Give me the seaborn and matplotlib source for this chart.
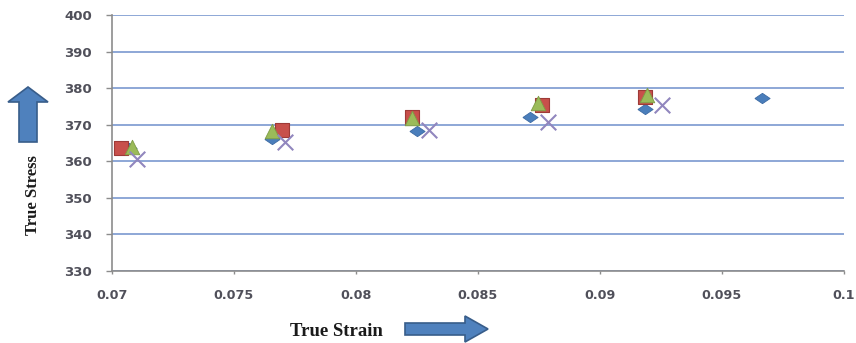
import numpy as np
import seaborn as sns
import matplotlib.pyplot as plt
from matplotlib.patches import Polygon

# series (true strain, true stress)
strain_blue = [0.0707, 0.07656, 0.0825, 0.08714, 0.09186, 0.09665]
stress_blue = [363.6, 366.0, 368.3, 372.1, 374.4, 377.3]

strain_red = [0.0704, 0.07697, 0.0823, 0.08762, 0.09186]
stress_red = [363.5, 368.5, 372.1, 375.3, 377.6]

strain_green = [0.07082, 0.07656, 0.0823, 0.08748, 0.09193]
stress_green = [363.9, 368.3, 371.8, 375.8, 378.1]

strain_cross = [0.07102, 0.0771, 0.08298, 0.08789, 0.09254]
stress_cross = [360.7, 365.3, 368.5, 370.8, 375.3]

x_ticks = [0.07, 0.075, 0.08, 0.085, 0.09, 0.095, 0.1]
x_tick_labels = ['0.07', '0.075', '0.08', '0.085', '0.09', '0.095', '0.1']
y_ticks = [330, 340, 350, 360, 370, 380, 390, 400]

W, H = 856, 343

sns.set_style("white")
plt.rcParams['font.family'] = ['DejaVu Sans']

fig = plt.figure(figsize=(W / 100, H / 100), dpi=100)
ax = fig.add_axes([111.7 / W, 1 - 270.7 / H, (844 - 111.7) / W, (270.7 - 15) / H])

# wide Excel-style diamond
diamond = [(-1, 0), (0, 0.68), (1, 0), (0, -0.68), (-1, 0)]

sns.scatterplot(x=strain_blue, y=stress_blue, marker=diamond, s=120,
                color='#4A7EBB', edgecolor='#3C6AA3', linewidth=0.6, ax=ax, zorder=3, legend=False)
sns.scatterplot(x=strain_red, y=stress_red, marker='s', s=100,
                color='#C8504B', edgecolor='#9E3A37', linewidth=0.8, ax=ax, zorder=3, legend=False)
sns.scatterplot(x=strain_green, y=stress_green, marker='^', s=110,
                color='#9BBB59', edgecolor='#7E9C45', linewidth=0.6, ax=ax, zorder=3, legend=False)
sns.scatterplot(x=strain_cross, y=stress_cross, marker='x', s=125,
                color='#9186BE', linewidth=1.5, ax=ax, zorder=3, legend=False)

ax.set_xlim(0.07, 0.1)
ax.set_ylim(330, 400)
ax.set_xticks(x_ticks)
ax.set_xticklabels(x_tick_labels)
ax.set_yticks(y_ticks)
ax.set_xlabel('')
ax.set_ylabel('')

ax.yaxis.grid(True, color='#7A98D0', linewidth=1.2)
ax.xaxis.grid(False)
ax.set_axisbelow(True)

for side in ['top', 'right']:
    ax.spines[side].set_visible(False)
for side in ['left', 'bottom']:
    ax.spines[side].set_color('#8C8C8C')
    ax.spines[side].set_linewidth(1.2)
    ax.spines[side].set_zorder(2.5)

ax.tick_params(axis='y', direction='out', length=4.3, width=1, color='#8C8C8C',
               pad=10, labelsize=9.5, labelcolor='#50505A', left=True)
ax.tick_params(axis='x', direction='out', length=2.5, width=1, color='#8C8C8C',
               pad=10.5, labelsize=9.2, labelcolor='#50505A', bottom=True)
for lab in ax.get_xticklabels() + ax.get_yticklabels():
    lab.set_fontweight('bold')

# axis titles
fig.text(336 / W, 1 - 332 / H, 'True Strain', ha='center', va='center',
         family='Liberation Serif', fontweight='bold', fontsize=13.5, color='#1a1a1a')
fig.text(33 / W, 1 - 195 / H, 'True Stress', ha='center', va='center', rotation=90,
         family='Liberation Serif', fontweight='bold', fontsize=12, color='#1a1a1a')


def px(points):
    return [(x / W, 1 - y / H) for x, y in points]


# block arrows next to the axis titles
up_arrow = [(19, 142), (37, 142), (37, 102), (48, 102), (28, 87), (8, 102), (19, 102)]
right_arrow = [(405, 323), (465, 323), (465, 316), (488, 329), (465, 342), (465, 335), (405, 335)]
for shape in [up_arrow, right_arrow]:
    fig.patches.append(Polygon(px(shape), closed=True, transform=fig.transFigure,
                               facecolor='#4F81BD', edgecolor='#385D8A', linewidth=1.2))

fig.savefig('out.png', dpi=100)
